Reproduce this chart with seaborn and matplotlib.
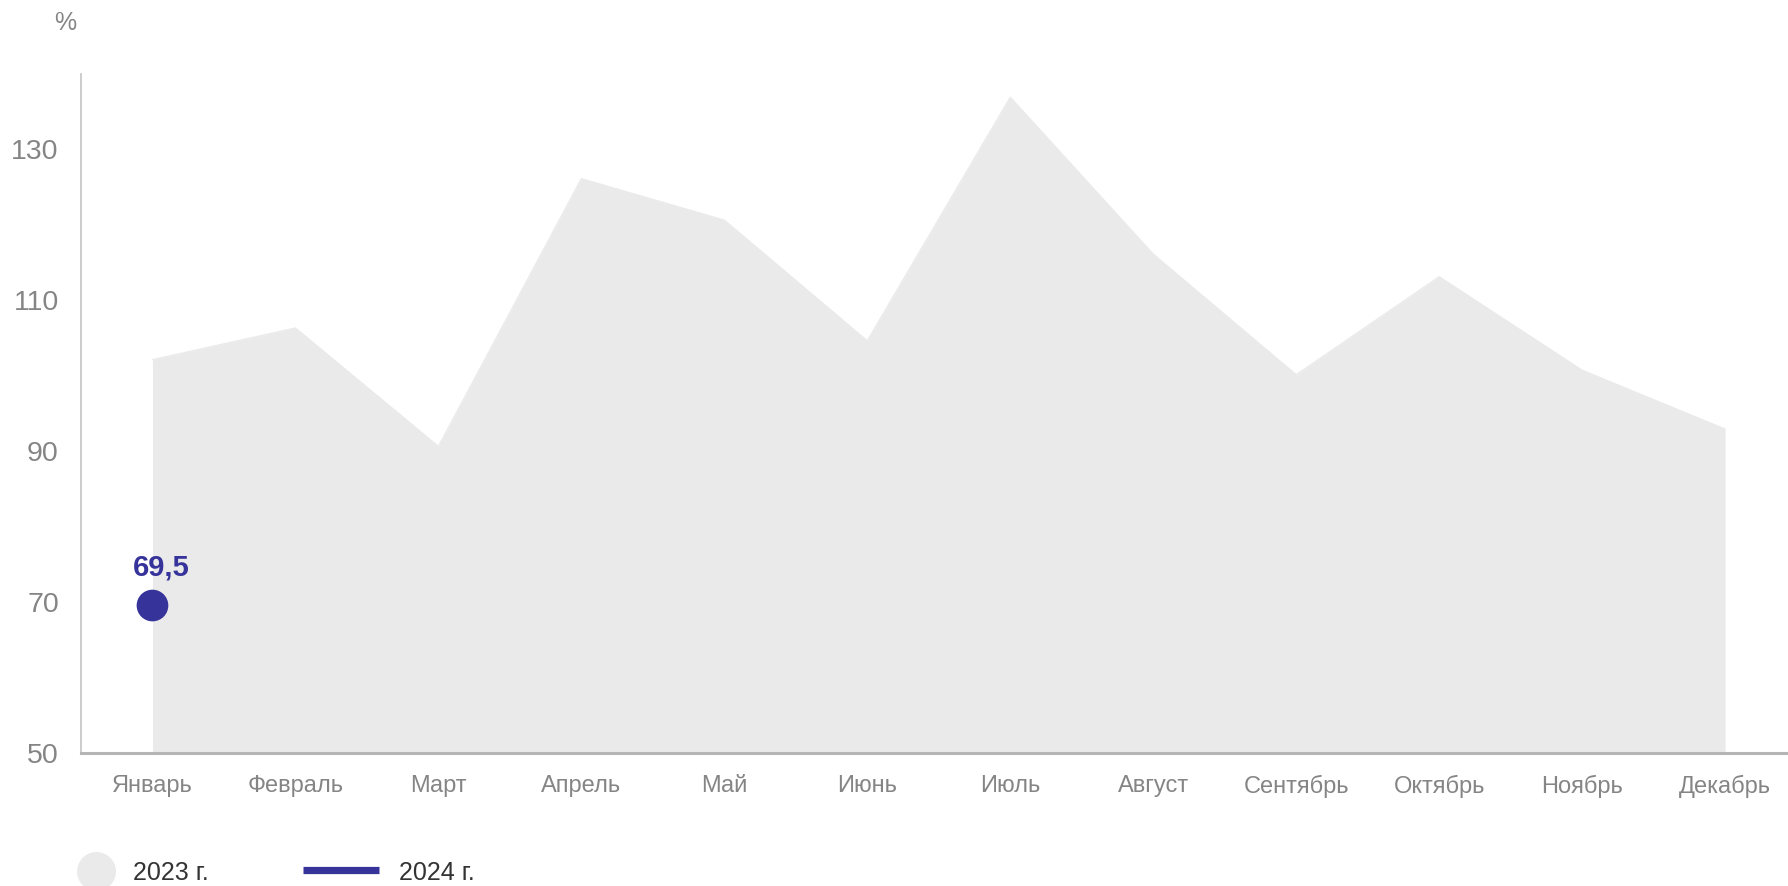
import matplotlib
matplotlib.use("Agg")
import matplotlib.pyplot as plt
import seaborn as sns
import pandas as pd
from matplotlib.lines import Line2D

months = ["Январь", "Февраль", "Март", "Апрель", "Май", "Июнь",
          "Июль", "Август", "Сентябрь", "Октябрь", "Ноябрь", "Декабрь"]
values_2023 = [102.1, 106.3, 90.6, 126.1, 120.6, 104.6,
               136.9, 116.1, 100.1, 113.1, 100.7, 92.9]
values_2024 = [69.5]
label_2024 = "69,5"
yticks = [50, 70, 90, 110, 130]

fill_color = "#eaeaea"
blue = "#36339a"
grey_text = "#858585"

sns.set_theme(style="white")
plt.rcParams["font.family"] = ["Liberation Sans", "DejaVu Sans"]

df23 = pd.DataFrame({"x": range(len(months)), "v": values_2023})
df24 = pd.DataFrame({"x": range(len(values_2024)), "v": values_2024})

fig = plt.figure(figsize=(17.88, 8.86), dpi=100)
ax = fig.add_axes([0.0453, 0.1506, 0.9547, 0.766])

ax.fill_between(df23["x"], 50, df23["v"], color=fill_color, lw=0, zorder=1)
sns.lineplot(data=df23, x="x", y="v", color=fill_color, lw=1, ax=ax, zorder=2)
sns.scatterplot(data=df24, x="x", y="v", color=blue, s=520, edgecolor="none",
                ax=ax, zorder=3)
for x, v in zip(df24["x"], df24["v"]):
    ax.annotate(label_2024, (x, v), xytext=(6, 17), textcoords="offset points",
                ha="center", va="bottom", fontsize=21, fontweight="bold", color=blue)

ax.set_xlim(-0.5, 11.44)
ax.set_ylim(50, 140)
ax.set_xticks(range(len(months)))
ax.set_xticklabels(months)
ax.set_yticks(yticks)
ax.tick_params(axis="x", length=0, pad=16, labelsize=17, labelcolor=grey_text)
ax.tick_params(axis="y", length=0, pad=16, labelsize=20.5, labelcolor=grey_text)
ax.set_xlabel("")
ax.set_ylabel("")
for s in ["top", "right"]:
    ax.spines[s].set_visible(False)
ax.spines["left"].set_color("#c4c4c4")
ax.spines["left"].set_linewidth(1.2)
ax.spines["bottom"].set_color("#b5b5b5")
ax.spines["bottom"].set_linewidth(2.2)

fig.text(65 / 1788, 1 - 23 / 886, "%", ha="center", va="center",
         fontsize=18, color=grey_text)

# legend
tr = fig.dpi_scale_trans
fig.add_artist(Line2D([0.96], [0.15], marker="o", markersize=27, color=fill_color,
                      lw=0, transform=tr))
fig.text(1.33, 0.125, "2023 г.", transform=tr, va="center", ha="left",
         fontsize=18, color="#333333")
fig.add_artist(Line2D([3.03, 3.79], [0.16, 0.16], color=blue, lw=5.2,
                      solid_capstyle="butt", transform=tr))
fig.text(3.99, 0.125, "2024 г.", transform=tr, va="center", ha="left",
         fontsize=18, color="#333333")

fig.savefig("out.png", dpi=100)
